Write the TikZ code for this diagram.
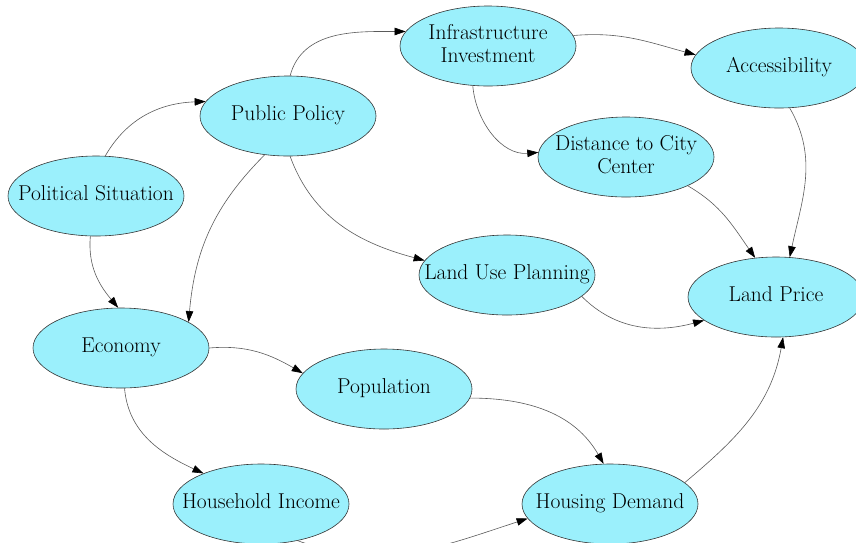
\documentclass[tikz,border=0pt]{standalone}
\usetikzlibrary{shapes.geometric,arrows.meta}
\definecolor{nodefill}{HTML}{9BF0FC}
\definecolor{edgegray}{HTML}{5A5A5A}
% label of a fixed-size ellipse: centred, taking no width of its own
\newcommand{\flabel}[1]{\makebox[0pt]{\begin{tabular}{@{}c@{}}#1\end{tabular}}}
\begin{document}
\begin{tikzpicture}[x=1pt,y=1pt,
  factor/.style={ellipse, draw=black!80, line width=0.6pt, fill=nodefill,
    minimum width=176pt, minimum height=80pt, inner sep=0pt,
    font=\fontsize{21.5}{23}\selectfont},
  link/.style={draw=edgegray, line width=0.6pt,
    -{Triangle[length=11pt,width=7.5pt,fill=black,color=black]}}]
\useasboundingbox (0,0) rectangle (856,-542);

% factors
\node[factor] (ps)   at (96,-196)  {\flabel{Political Situation}};
\node[factor] (pp)   at (288,-116) {\flabel{Public Policy}};
\node[factor] (ii)   at (488,-46)  {\flabel{Infrastructure\\Investment}};
\node[factor] (acc)  at (779,-68)  {\flabel{Accessibility}};
\node[factor] (dist) at (626,-157) {\flabel{Distance to City\\Center}};
\node[factor] (lup)  at (507,-275) {\flabel{Land Use Planning}};
\node[factor] (lp)   at (776,-297) {\flabel{Land Price}};
\node[factor] (eco)  at (121,-348) {\flabel{Economy}};
\node[factor] (pop)  at (384,-389) {\flabel{Population}};
\node[factor] (hi)   at (261,-504) {\flabel{Household Income}};
\node[factor] (hd)   at (610,-504) {\flabel{Housing Demand}};

% influences
\draw[link] (ps.77)   to[out=60,in=182]  (pp.170);
\draw[link] (ps.262)  to[out=265,in=130] (eco.94);
\draw[link] (pp.87)   to[out=75,in=180]  (ii.170);
\draw[link] (pp.239)  to[out=225,in=85]  (eco.21);
\draw[link] (pp.273)  to[out=290,in=165] (lup.170);
\draw[link] (ii.7)    to[out=5,in=165]   (acc.171);
\draw[link] (ii.249)  to[out=275,in=185] (dist.177);
\draw[link] (acc.285) to[out=300,in=78]  (lp.71);
\draw[link] (dist.335) to[out=-30,in=125] (lp.118);
\draw[link] (lup.344) to[out=-45,in=195] (lp.198);
\draw[link] (eco.0)   to[out=5,in=150]   (pop.169);
\draw[link] (eco.275) to[out=275,in=155] (hi.152);
\draw[link] (pop.354) to[out=0,in=120]   (hd.99);
\draw[link] (hi.315)  to[out=-20,in=198] (hd.190);
\draw[link] (hd.16)   to[out=40,in=260]  (lp.280);
\end{tikzpicture}
\end{document}
